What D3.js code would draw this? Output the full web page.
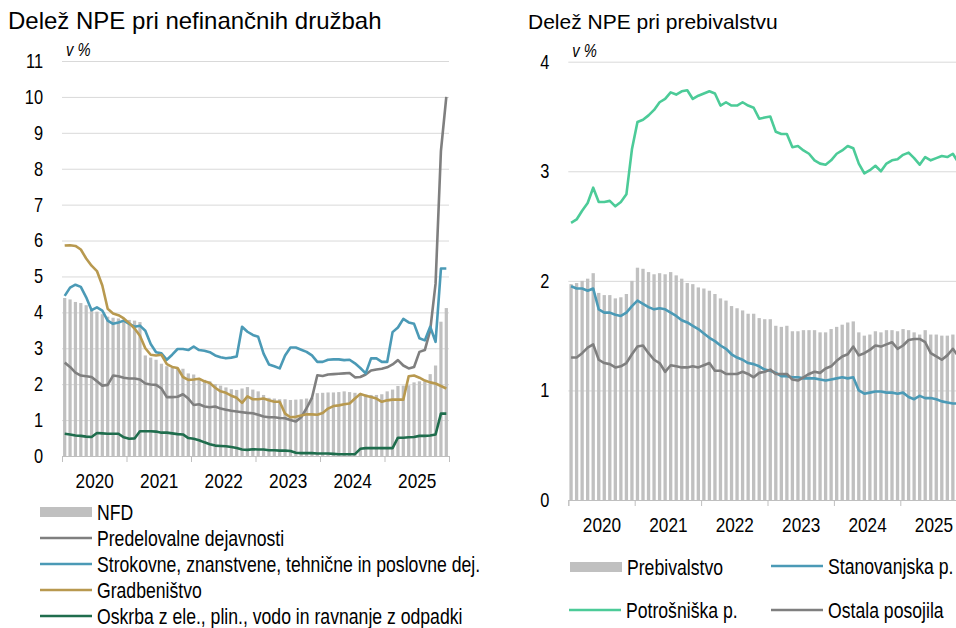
<!DOCTYPE html>
<html>
<head>
<meta charset="utf-8">
<script src="https://cdn.jsdelivr.net/npm/d3@7"></script>
<style>
  body { margin: 0; background: #fff; }
  text { font-family: "Liberation Sans", Arial, sans-serif; fill: #000; }
</style>
</head>
<body>
<script>
//categories
var years = ["2020", "2021", "2022", "2023", "2024", "2025"];

//left chart: NPE share, non-financial corporations (monthly, from Jan 2020)
var nfd = [4.40, 4.36, 4.29, 4.26, 4.20, 4.08, 4.02, 3.95, 3.88, 3.85, 3.83, 3.80,
    3.79, 3.77, 3.73, 2.80, 2.74, 2.68, 2.57, 2.50, 2.45, 2.44, 2.43, 2.30,
    2.27, 2.16, 2.12, 2.08, 2.00, 1.96, 1.91, 1.86, 1.84, 1.88, 1.92, 1.85,
    1.80, 1.70, 1.62, 1.60, 1.58, 1.58, 1.56, 1.57, 1.58, 1.60, 1.62, 1.75,
    1.76, 1.77, 1.77, 1.78, 1.80, 1.78, 1.76, 1.75, 1.72, 1.70, 1.70, 1.72,
    1.80, 1.85, 1.95, 1.96, 1.97, 2.05, 2.08, 2.08, 2.28, 2.52, 3.74, 4.12];
var predelovalne = [2.60, 2.48, 2.32, 2.24, 2.22, 2.20, 2.08, 1.96, 1.98, 2.24, 2.22, 2.18,
    2.16, 2.16, 2.13, 2.02, 1.99, 1.98, 1.88, 1.64, 1.64, 1.65, 1.72, 1.60,
    1.42, 1.44, 1.38, 1.36, 1.38, 1.32, 1.29, 1.26, 1.24, 1.22, 1.20, 1.19,
    1.15, 1.10, 1.08, 1.08, 1.06, 1.05, 1.00, 0.96, 1.08, 1.33, 1.62, 2.25,
    2.23, 2.27, 2.28, 2.29, 2.30, 2.31, 2.19, 2.20, 2.27, 2.38, 2.41, 2.43,
    2.47, 2.55, 2.67, 2.52, 2.44, 2.48, 2.90, 2.95, 3.50, 4.80, 8.50, 10.0];
var strokovne = [4.46, 4.69, 4.77, 4.71, 4.42, 4.06, 4.14, 4.05, 3.77, 3.68, 3.72, 3.77,
    3.68, 3.60, 3.63, 3.49, 3.12, 2.89, 2.86, 2.68, 2.82, 2.98, 2.98, 2.95,
    3.05, 2.95, 2.93, 2.89, 2.80, 2.75, 2.72, 2.74, 2.77, 3.60, 3.46, 3.37,
    3.32, 2.85, 2.55, 2.50, 2.44, 2.80, 3.02, 3.02, 2.96, 2.90, 2.80, 2.62,
    2.62, 2.68, 2.69, 2.69, 2.67, 2.68, 2.58, 2.45, 2.30, 2.72, 2.72, 2.62,
    2.62, 3.45, 3.58, 3.82, 3.72, 3.68, 3.28, 3.22, 3.60, 3.18, 5.22, 5.22];
var gradbenistvo = [5.86, 5.87, 5.85, 5.75, 5.50, 5.30, 5.15, 4.75, 4.10, 3.97, 3.92, 3.83,
    3.70, 3.55, 3.35, 3.00, 2.82, 2.80, 2.82, 2.56, 2.48, 2.45, 2.20, 2.12,
    2.13, 2.15, 2.08, 2.03, 1.90, 1.80, 1.76, 1.68, 1.62, 1.48, 1.66, 1.58,
    1.58, 1.60, 1.55, 1.51, 1.51, 1.18, 1.08, 1.09, 1.13, 1.16, 1.16, 1.15,
    1.20, 1.32, 1.39, 1.41, 1.44, 1.46, 1.60, 1.73, 1.68, 1.64, 1.60, 1.51,
    1.55, 1.57, 1.57, 1.57, 2.22, 2.24, 2.18, 2.10, 2.05, 2.02, 1.95, 1.88];
var oskrba = [0.62, 0.60, 0.57, 0.56, 0.54, 0.53, 0.64, 0.63, 0.62, 0.62, 0.62, 0.52,
    0.48, 0.49, 0.69, 0.69, 0.69, 0.68, 0.65, 0.65, 0.63, 0.61, 0.60, 0.50,
    0.48, 0.44, 0.38, 0.33, 0.29, 0.28, 0.27, 0.25, 0.22, 0.18, 0.17, 0.19,
    0.18, 0.18, 0.16, 0.16, 0.15, 0.15, 0.14, 0.09, 0.08, 0.08, 0.08, 0.07,
    0.07, 0.07, 0.06, 0.05, 0.05, 0.05, 0.05, 0.20, 0.22, 0.22, 0.22, 0.22,
    0.22, 0.22, 0.51, 0.51, 0.52, 0.53, 0.56, 0.56, 0.57, 0.60, 1.18, 1.18];

//right chart: NPE share, households
var prebivalstvo = [1.97, 1.98, 2.00, 2.02, 2.07, 1.89, 1.87, 1.87, 1.84, 1.85, 1.88, 2.00,
    2.12, 2.11, 2.08, 2.06, 2.07, 2.06, 2.08, 2.05, 2.02, 1.98, 1.97, 1.94,
    1.93, 1.91, 1.88, 1.84, 1.82, 1.77, 1.75, 1.73, 1.70, 1.70, 1.66, 1.65,
    1.65, 1.59, 1.58, 1.59, 1.54, 1.54, 1.55, 1.55, 1.55, 1.53, 1.53, 1.56,
    1.58, 1.60, 1.62, 1.63, 1.53, 1.50, 1.51, 1.54, 1.53, 1.55, 1.55, 1.54,
    1.56, 1.55, 1.53, 1.51, 1.55, 1.51, 1.51, 1.50, 1.50, 1.51, 1.50, 1.50];
var potrosniska = [2.53, 2.56, 2.64, 2.71, 2.85, 2.72, 2.72, 2.73, 2.68, 2.72, 2.79, 3.20,
    3.45, 3.47, 3.51, 3.56, 3.63, 3.66, 3.72, 3.70, 3.73, 3.74, 3.66, 3.69,
    3.71, 3.73, 3.71, 3.60, 3.63, 3.60, 3.60, 3.63, 3.60, 3.58, 3.48, 3.49,
    3.50, 3.36, 3.34, 3.34, 3.22, 3.23, 3.19, 3.16, 3.10, 3.07, 3.06, 3.10,
    3.16, 3.19, 3.23, 3.21, 3.07, 2.98, 3.01, 3.05, 3.00, 3.07, 3.10, 3.11,
    3.15, 3.17, 3.12, 3.06, 3.13, 3.10, 3.12, 3.14, 3.13, 3.16, 3.08, 3.08];
var stanovanjska = [1.95, 1.93, 1.93, 1.91, 1.93, 1.74, 1.71, 1.71, 1.69, 1.68, 1.71, 1.77,
    1.82, 1.79, 1.76, 1.74, 1.75, 1.74, 1.71, 1.68, 1.64, 1.62, 1.59, 1.56,
    1.52, 1.48, 1.45, 1.41, 1.38, 1.33, 1.30, 1.28, 1.25, 1.24, 1.22, 1.19,
    1.18, 1.16, 1.13, 1.13, 1.12, 1.12, 1.11, 1.11, 1.11, 1.10, 1.09, 1.10,
    1.11, 1.12, 1.11, 1.12, 1.00, 0.97, 0.98, 0.99, 0.99, 0.98, 0.98, 0.97,
    0.98, 0.94, 0.92, 0.95, 0.93, 0.93, 0.92, 0.90, 0.89, 0.88, 0.88, 0.87];
var ostala = [1.30, 1.30, 1.34, 1.39, 1.42, 1.28, 1.25, 1.24, 1.21, 1.22, 1.25, 1.33,
    1.40, 1.41, 1.34, 1.28, 1.25, 1.17, 1.23, 1.22, 1.21, 1.21, 1.22, 1.21,
    1.23, 1.25, 1.18, 1.18, 1.15, 1.15, 1.15, 1.17, 1.15, 1.12, 1.16, 1.17,
    1.19, 1.15, 1.15, 1.15, 1.10, 1.09, 1.12, 1.15, 1.17, 1.16, 1.20, 1.22,
    1.27, 1.31, 1.33, 1.40, 1.32, 1.34, 1.37, 1.41, 1.40, 1.42, 1.44, 1.38,
    1.41, 1.46, 1.47, 1.47, 1.44, 1.34, 1.31, 1.28, 1.32, 1.38, 1.31, 1.30];

var leftTicks = [0, 1, 2, 3, 4, 5, 6, 7, 8, 9, 10, 11];
var rightTicks = [0, 1, 2, 3, 4];

//month categories (12 per year label)
var months = [];
years.forEach(function(y){
    for (var m = 1; m <= 12; m++) months.push(y + "-" + (m < 10 ? "0" + m : m));
});

var colGrid = "#d9d9d9", colBar = "#c0c0c0", colGray = "#7f7f7f", colBlue = "#4b9ab6",
    colGold = "#b8994f", colGreen = "#1f6d4d", colMint = "#4ccb98";

//no narrow font installed: squeeze text horizontally around its anchor
function narrow(sel){
    sel.each(function(){
        var t = d3.select(this);
        var x = +t.attr("x") || 0;
        t.attr("transform", "translate(" + x + ",0) scale(0.82,1) translate(" + (-x) + ",0)");
    });
}

var svg = d3.select("body").append("svg")
    .attr("width", 956)
    .attr("height", 628);

function drawPanel(opt){
    var g = svg.append("g");

    var x = d3.scaleBand()
        .domain(months)
        .range([opt.x0, opt.x1])
        .paddingInner(0.4)
        .paddingOuter(0.2);
    var xm = d3.scaleLinear().domain([0, months.length]).range([opt.x0, opt.x1]);
    var y = d3.scaleLinear().domain([0, opt.ymax]).range([opt.y0, opt.y1]);
    var cx = function(d, i){ return x(months[i]) + x.bandwidth() / 2; };

    //gridlines + y labels
    var ya = g.append("g")
        .attr("transform", "translate(" + opt.x0 + ",0)")
        .call(d3.axisLeft(y).tickValues(opt.ticks).tickFormat(d3.format("d"))
            .tickSize(-(opt.x1 - opt.x0)).tickPadding(19));
    ya.select(".domain").remove();
    ya.selectAll("line").attr("stroke", colGrid);
    ya.selectAll("text").style("font-size", "20px").call(narrow);

    //bars
    g.selectAll(".bar")
        .data(opt.bars)
        .enter()
        .append("rect")
        .attr("x", function(d, i){ return x(months[i]); })
        .attr("y", function(d){ return y(d); })
        .attr("width", x.bandwidth())
        .attr("height", function(d){ return y(0) - y(d); })
        .attr("fill", colBar);

    //x axis: baseline + year ticks
    var xa = g.append("g")
        .attr("transform", "translate(0," + opt.y0 + ")")
        .call(d3.axisBottom(xm).tickValues(d3.range(0, months.length + 1, 12)).tickFormat("").tickSizeOuter(0).tickSize(6));
    xa.select(".domain").attr("stroke", "#bfbfbf");
    xa.selectAll("line").attr("stroke", "#bfbfbf");

    var xl = g.append("g")
        .attr("transform", "translate(0," + opt.y0 + ")")
        .call(d3.axisBottom(xm).tickValues(d3.range(6, months.length, 12))
            .tickFormat(function(d){ return years[Math.floor(d / 12)]; })
            .tickSize(0).tickPadding(17));
    xl.select(".domain").remove();
    xl.selectAll("text").style("font-size", "21px").call(narrow);

    //lines
    var line = d3.line()
        .x(cx)
        .y(function(d){ return y(d); });
    opt.lines.forEach(function(s){
        g.append("path")
            .datum(s.values)
            .attr("fill", "none")
            .attr("stroke", s.color)
            .attr("stroke-width", 2.6)
            .attr("stroke-linejoin", "round")
            .attr("d", line);
    });

    //unit label
    g.append("text")
        .attr("x", opt.x0 + 4)
        .attr("y", opt.y1 - 5)
        .style("font-size", "18px")
        .style("font-style", "italic")
        .text("v %")
        .call(narrow);

    //title
    svg.append("text")
        .attr("x", opt.titleX)
        .attr("y", 29)
        .style("font-size", opt.titleSize)
        .text(opt.title);
}

drawPanel({
    x0: 62, x1: 449, y0: 456, y1: 61, ymax: 11, ticks: leftTicks,
    bars: nfd,
    lines: [
        {values: predelovalne, color: colGray},
        {values: strokovne, color: colBlue},
        {values: gradbenistvo, color: colGold},
        {values: oskrba, color: colGreen}
    ],
    title: "Delež NPE pri nefinančnih družbah", titleX: 8, titleSize: "24px"
});

drawPanel({
    x0: 568.3, x1: 966.7, y0: 500, y1: 61.7, ymax: 4, ticks: rightTicks,
    bars: prebivalstvo,
    lines: [
        {values: stanovanjska, color: colBlue},
        {values: ostala, color: colGray},
        {values: potrosniska, color: colMint}
    ],
    title: "Delež NPE pri prebivalstvu", titleX: 528, titleSize: "21px"
});

//legends
var legLeft = [
    {name: "NFD", color: colBar, bar: true},
    {name: "Predelovalne dejavnosti", color: colGray},
    {name: "Strokovne, znanstvene, tehnične in poslovne dej.", color: colBlue},
    {name: "Gradbeništvo", color: colGold},
    {name: "Oskrba z ele., plin., vodo in ravnanje z odpadki", color: colGreen}
];
var legRight = [
    {name: "Prebivalstvo", color: colBar, bar: true, x: 570, y: 567},
    {name: "Stanovanjska p.", color: colBlue, x: 771, y: 566},
    {name: "Potrošniška p.", color: colMint, x: 569, y: 610},
    {name: "Ostala posojila", color: colGray, x: 771, y: 610}
];

function legendItem(d, lx, ly){
    var g = svg.append("g").attr("transform", "translate(" + lx + "," + ly + ")");
    if (d.bar) {
        g.append("rect").attr("x", 0).attr("y", -5).attr("width", 52).attr("height", 10).attr("fill", d.color);
    } else {
        g.append("line").attr("x1", 0).attr("x2", 52).attr("stroke", d.color).attr("stroke-width", 2.6);
    }
    g.append("text")
        .attr("x", 57)
        .attr("dy", "0.36em")
        .style("font-size", "21.5px")
        .text(d.name)
        .call(narrow);
}

legLeft.forEach(function(d, i){ legendItem(d, 40, 512 + i * 26); });
legRight.forEach(function(d){ legendItem(d, d.x, d.y); });
</script>
</body>
</html>
